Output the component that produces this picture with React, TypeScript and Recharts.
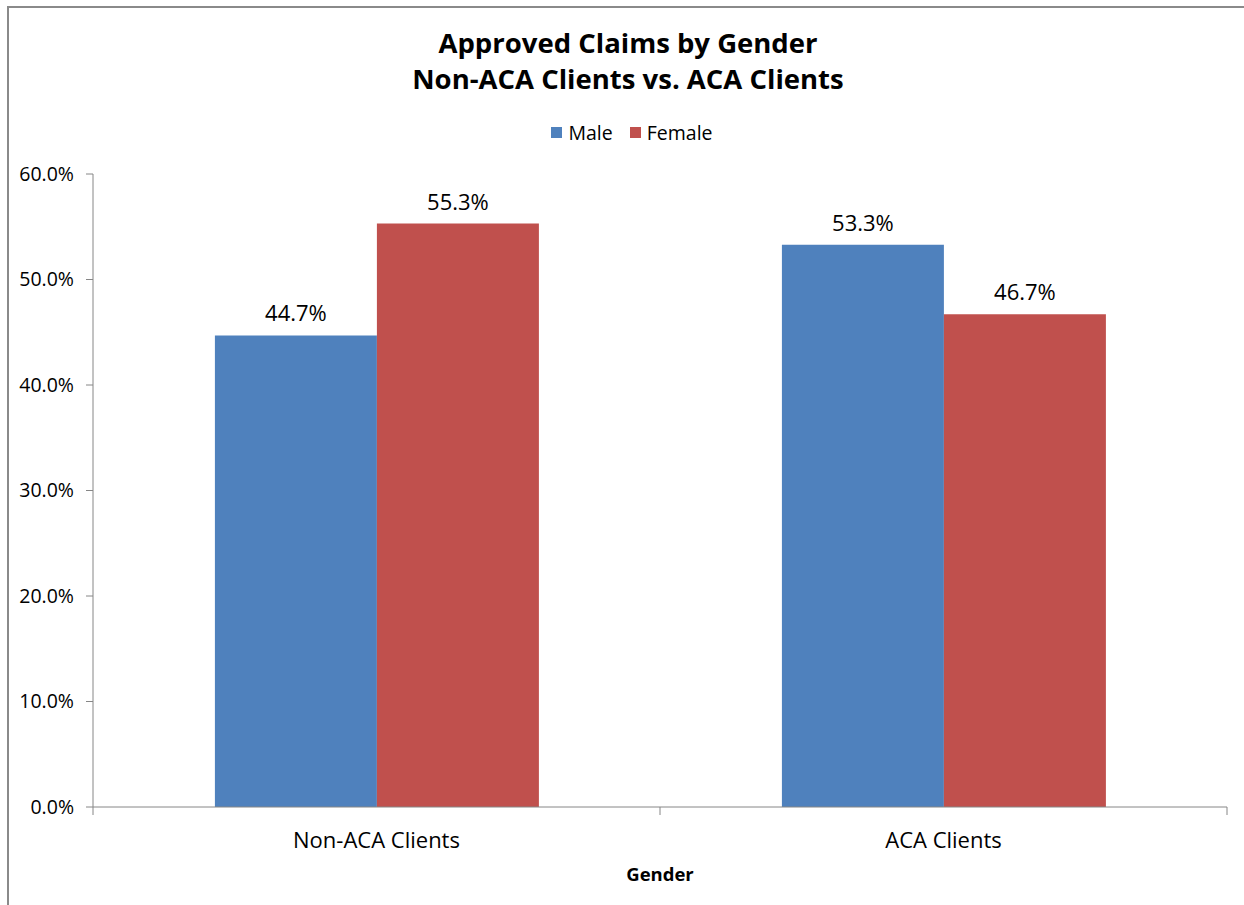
import { BarChart, Bar, XAxis, YAxis, LabelList } from 'recharts';

const categories = ['Non-ACA Clients', 'ACA Clients'];
const male = [44.7, 53.3];
const female = [55.3, 46.7];
const yTicks = [0, 10, 20, 30, 40, 50, 60];

const data = categories.map((name, i) => ({ name, male: male[i], female: female[i] }));

const FONT = '"Open Sans", "Noto Sans", sans-serif';
const PLOT_LEFT = 93;
const PLOT_RIGHT = 1227;
const BAND = (PLOT_RIGHT - PLOT_LEFT) / categories.length;

function XTick(props: any) {
  const { x, y, payload, index } = props;
  const left = x - BAND / 2;
  const right = x + BAND / 2;
  return (
    <g>
      <line x1={left} y1={y - 8} x2={left} y2={y} stroke="#868686" />
      {index === categories.length - 1 && (
        <line x1={right} y1={y - 8} x2={right} y2={y} stroke="#868686" />
      )}
      <text x={x} y={y + 33} textAnchor="middle" fontSize={22} fill="#000" fontFamily={FONT}>
        {payload.value}
      </text>
    </g>
  );
}

export default function App() {
  return (
    <div style={{ position: 'absolute', left: 0, top: 0, width: 1244, height: 905, background: '#fff', overflow: 'hidden' }}>
      <div style={{ position: 'absolute', left: 7, top: 6, width: 1270, height: 920, border: '2px solid #8a8a8a', boxSizing: 'border-box' }} />
      <div style={{ position: 'absolute', left: 0, top: 25, width: 1256, textAlign: 'center', fontFamily: FONT, fontWeight: 700, fontSize: 27.5, lineHeight: '36px', color: '#000' }}>
        <div>Approved Claims by Gender</div>
        <div>Non-ACA Clients vs. ACA Clients</div>
      </div>
      <div style={{ position: 'absolute', left: 0, top: 119, width: 1264, display: 'flex', justifyContent: 'center', alignItems: 'center', fontFamily: FONT, fontSize: 19.5, color: '#000' }}>
        <span style={{ width: 11, height: 11, background: '#4F81BD', marginRight: 6 }} />
        <span style={{ marginRight: 17 }}>Male</span>
        <span style={{ width: 11, height: 11, background: '#C0504D', marginRight: 6 }} />
        <span>Female</span>
      </div>
      <div style={{ position: 'absolute', left: 0, top: 0 }}>
        <BarChart
          width={1244}
          height={905}
          data={data}
          margin={{ top: 174, right: 1244 - PLOT_RIGHT, bottom: 40, left: 0 }}
          barCategoryGap="21.5%"
          barGap={0}
        >
          <XAxis
            dataKey="name"
            axisLine={{ stroke: '#868686' }}
            tickLine={false}
            tick={<XTick />}
            height={58}
            interval={0}
          />
          <YAxis
            width={PLOT_LEFT}
            domain={[0, 60]}
            ticks={yTicks}
            interval={0}
            axisLine={{ stroke: '#868686' }}
            tickLine={{ stroke: '#868686' }}
            tickSize={7}
            tickMargin={12}
            tickFormatter={(v) => `${v.toFixed(1)}%`}
            tick={{ fontSize: 19.5, fill: '#000', fontFamily: FONT }}
          />
          <Bar dataKey="male" fill="#4F81BD" isAnimationActive={false}>
            <LabelList dataKey="male" position="top" offset={14} formatter={(v: any) => `${Number(v).toFixed(1)}%`} style={{ fontSize: 22, fill: '#000', fontFamily: FONT }} />
          </Bar>
          <Bar dataKey="female" fill="#C0504D" isAnimationActive={false}>
            <LabelList dataKey="female" position="top" offset={14} formatter={(v: any) => `${Number(v).toFixed(1)}%`} style={{ fontSize: 22, fill: '#000', fontFamily: FONT }} />
          </Bar>
        </BarChart>
      </div>
      <div style={{ position: 'absolute', left: PLOT_LEFT, width: PLOT_RIGHT - PLOT_LEFT, top: 861, textAlign: 'center', fontFamily: FONT, fontWeight: 700, fontSize: 18.5, color: '#000' }}>
        Gender
      </div>
    </div>
  );
}
